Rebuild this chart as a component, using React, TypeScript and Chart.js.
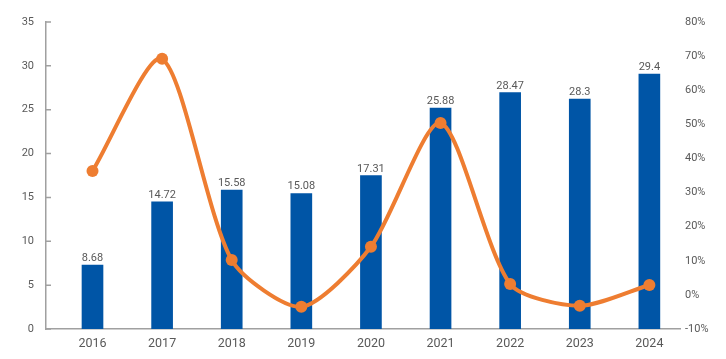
import React, { useEffect, useRef } from "react";
import { Chart, registerables } from "chart.js";

Chart.register(...registerables);

const categories = ["2016", "2017", "2018", "2019", "2020", "2021", "2022", "2023", "2024"];
const barValues = [7.3, 14.5, 15.85, 15.45, 17.5, 25.2, 26.95, 26.2, 29.05];
const barLabels = ["8.68", "14.72", "15.58", "15.08", "17.31", "25.88", "28.47", "28.3", "29.4"];
const growth = [36.3, 69.2, 10.2, -3.5, 14.1, 50.4, 3.2, -3.2, 2.9];

const BLUE = "#0055A6";
const ORANGE = "#EE7D31";
const GRAY_TEXT = "#595959";
const AXIS = "#A0A0A0";
const FONT = "Roboto, 'Liberation Sans', sans-serif";

const decorPlugin = {
  id: "decor",
  afterDraw(chart: any) {
    const ctx = chart.ctx;
    const area = chart.chartArea;
    const y = chart.scales.y;
    ctx.save();
    ctx.strokeStyle = AXIS;
    ctx.lineWidth = 1.5;
    ctx.beginPath();
    y.ticks.forEach((t: any) => {
      const py = y.getPixelForValue(t.value);
      ctx.moveTo(area.left, py);
      ctx.lineTo(area.left + 5, py);
    });
    ctx.stroke();
    ctx.restore();
  },
  afterDatasetDraw(chart: any, args: any) {
    if (args.index !== 0) return;
    const ctx = chart.ctx;
    const meta = chart.getDatasetMeta(0);
    ctx.save();
    ctx.fillStyle = GRAY_TEXT;
    ctx.font = `11px ${FONT}`;
    ctx.textAlign = "center";
    ctx.textBaseline = "alphabetic";
    meta.data.forEach((bar: any, i: number) => {
      ctx.fillText(barLabels[i], bar.x, bar.y - 4);
    });
    ctx.restore();
  },
};

export default function App() {
  const ref = useRef<HTMLCanvasElement | null>(null);
  useEffect(() => {
    document.body.style.margin = "0";
    const canvas = ref.current!;
    const xs = categories.map((_, i) => i);
    const chart = new Chart(canvas, {
      type: "bar",
      data: {
        datasets: [
          {
            type: "bar",
            data: barValues.map((v, i) => ({ x: xs[i], y: v })),
            backgroundColor: BLUE,
            barThickness: 21,
            yAxisID: "y",
            order: 1,
          } as any,
          {
            type: "line",
            data: growth.map((v, i) => ({ x: xs[i], y: v })),
            borderColor: ORANGE,
            backgroundColor: ORANGE,
            borderWidth: 4,
            pointRadius: 6,
            pointHoverRadius: 6,
            pointBackgroundColor: ORANGE,
            pointBorderWidth: 0,
            tension: 0.25,
            yAxisID: "y1",
            order: 0,
          } as any,
        ],
      },
      options: {
        responsive: false,
        animation: false,
        layout: { padding: { top: 22, left: 0, right: 0, bottom: 0 } },
        plugins: { legend: { display: false }, tooltip: { enabled: false } },
        scales: {
          x: {
            type: "linear",
            offset: false,
            min: -0.668,
            max: 8.44,
            afterBuildTicks: (s: any) => { s.ticks = xs.map((v) => ({ value: v })); },
            grid: { display: false, drawTicks: false, offset: false },
            border: { display: true, color: AXIS, width: 1.5 },
            ticks: {
              color: GRAY_TEXT,
              font: { size: 12.5, family: FONT },
              padding: 7,
              autoSkip: false,
              maxRotation: 0,
              callback: (v: any) => categories[v] ?? "",
            },
            afterFit: (s: any) => { s.height = 30; },
          },
          y: {
            position: "left",
            min: 0,
            max: 35,
            grid: { display: false, drawTicks: false },
            border: { display: true, color: AXIS, width: 1.5 },
            ticks: { stepSize: 5, color: GRAY_TEXT, font: { size: 11, family: FONT }, padding: 12 },
            afterFit: (s: any) => { s.width = 46; },
          },
          y1: {
            position: "right",
            min: -10,
            max: 80,
            grid: { display: false, drawTicks: false },
            border: { display: false },
            ticks: {
              stepSize: 10,
              color: GRAY_TEXT,
              font: { size: 11, family: FONT },
              padding: 5,
              callback: (v: any) => `${v}%`,
            },
            afterFit: (s: any) => { s.width = 46; },
          },
        },
      },
      plugins: [decorPlugin],
    });
    return () => chart.destroy();
  }, []);
  return <canvas ref={ref} width={726} height={359} style={{ display: "block" }} />;
}
